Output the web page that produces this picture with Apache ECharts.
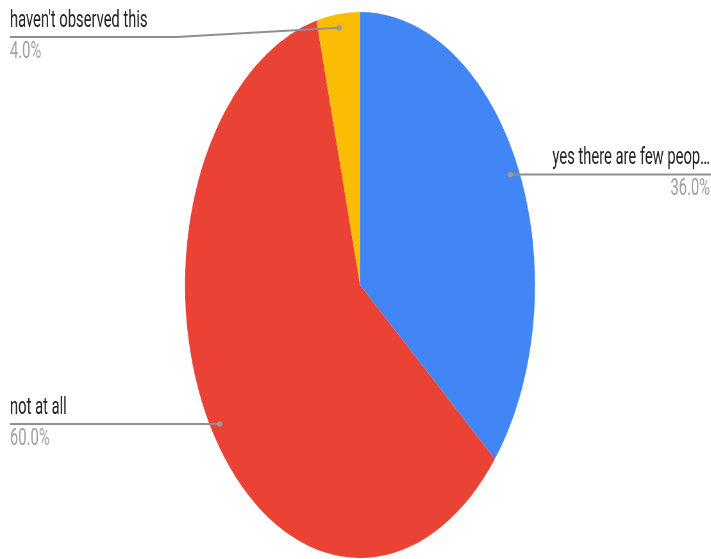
<!DOCTYPE html>
<html><head><meta charset="utf-8">
<script src="https://cdn.jsdelivr.net/npm/echarts@6/dist/echarts.min.js"></script>
<style>html,body{margin:0;padding:0;background:#fff;overflow:hidden;width:711px;height:559px}
#c{position:absolute;left:0;top:0;height:559px;transform-origin:0 0}</style>
</head><body><div id="c"></div>
<script>
// Data
const categories = ["yes there are few peop…", "not at all", "haven't observed this"];
const values = [36, 60, 4];
const colors = ['#4285F4', '#EA4335', '#FBBC04'];

// Geometry (the reference pie is horizontally squashed into an ellipse)
const S = 350 / 546;           // horizontal squash factor
const W = 711 / S;             // unscaled drawing width
const CX = 360 / S, CY = 285, R = 273;
const INSET = 0.95;
const LEFT_X = 10 / S, RIGHT_X = 710 / S, MIN_Y = 37, GAP = 45;
const LINE_COLOR = '#8f8f8f';

const dom = document.getElementById('c');
dom.style.width = W + 'px';
dom.style.transform = 'scaleX(' + S + ')';
const chart = echarts.init(dom, null, {renderer: 'canvas'});
const starts = [];
const lines = [];

const option = {
  animation: false,
  series: [{
    type: 'pie',
    center: [CX, CY],
    radius: R,
    startAngle: 90,
    clockwise: true,
    percentPrecision: 1,
    emphasis: {disabled: true},
    data: categories.map((n, i) => ({name: n, value: values[i], itemStyle: {color: colors[i]}})),
    label: {
      show: true,
      position: 'outside',
      fontFamily: 'Roboto',
      formatter: p => '{n|' + p.name + '}\n{p|' + p.percent.toFixed(1) + '%}',
      rich: {
        n: {fontFamily: 'Roboto', fontSize: 23, color: '#222222', lineHeight: 30, padding: [0, 0, 2, 0]},
        p: {fontFamily: 'Roboto', fontSize: 23, color: '#a0a0a0', lineHeight: 30}
      }
    },
    labelLine: {show: true, length: 10, length2: 10, lineStyle: {color: LINE_COLOR, width: 2, opacity: 0}},
    labelLayout: function (p) {
      const pts = p.labelLinePoints;
      if (!pts) return {};
      const sx = CX + (pts[0][0] - CX) * INSET;
      const sy = CY + (pts[0][1] - CY) * INSET;
      starts[p.dataIndex] = [sx, sy];
      const isLeft = sx < CX;
      const w = p.labelRect.width;
      const y = Math.max(sy, MIN_Y);
      const x = isLeft ? LEFT_X : RIGHT_X;
      const bendX = isLeft ? x + w + GAP : x - w - GAP;
      const lp = [[sx, sy], [bendX, y], [isLeft ? x : W, y]];
      lines[p.dataIndex] = lp;
      return {
        x: x, y: y,
        align: isLeft ? 'left' : 'right',
        verticalAlign: 'middle',
        labelLinePoints: lp
      };
    }
  }]
};
chart.setOption(option);
const g = [];
lines.forEach(lp => g.push({
  type: 'polyline', z: 100,
  shape: {points: lp},
  style: {stroke: LINE_COLOR, lineWidth: 2, fill: null}
}));
starts.forEach(s => g.push({
  type: 'ellipse', z: 101,
  shape: {cx: s[0], cy: s[1], rx: 2.8 / S, ry: 2.8},
  style: {fill: '#9a9a9a'}
}));
chart.setOption({graphic: g});
</script></body></html>
